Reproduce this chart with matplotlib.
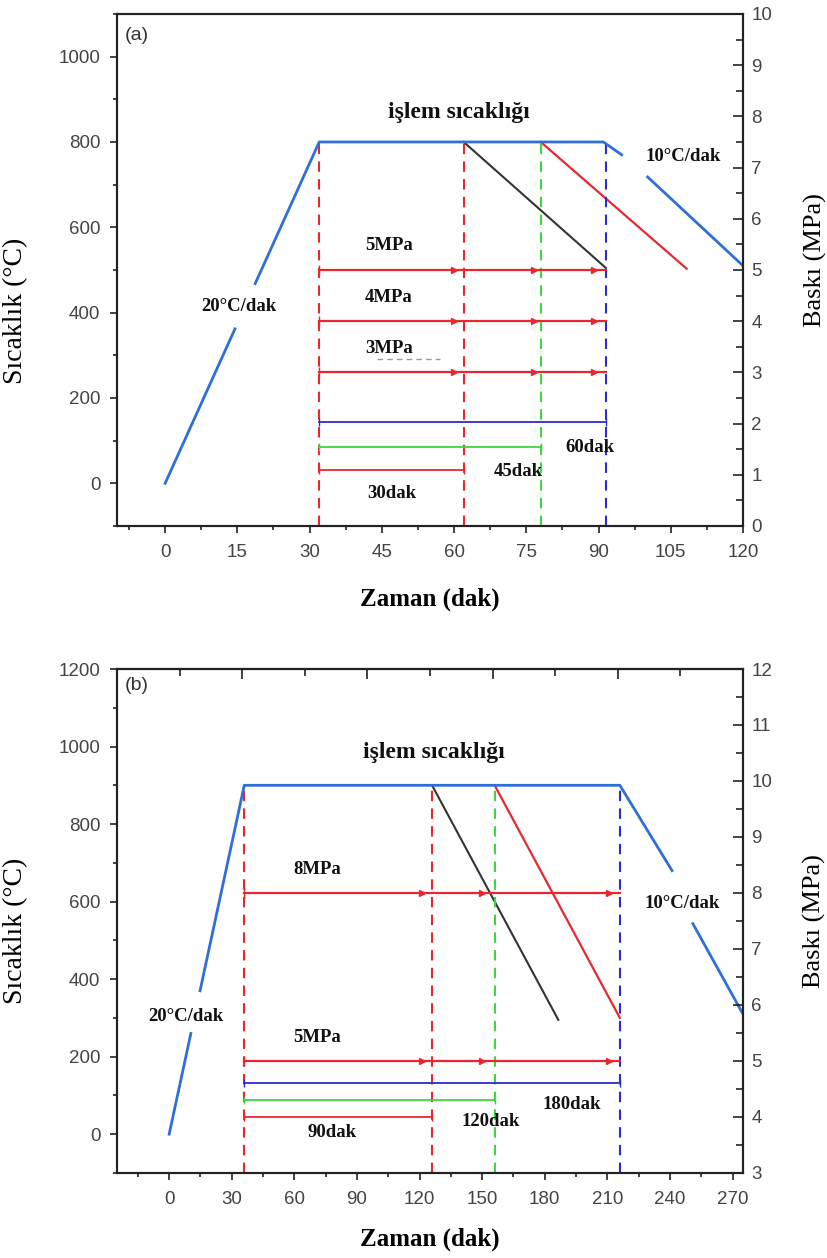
import numpy as np
import matplotlib.pyplot as plt
from matplotlib.ticker import MultipleLocator

plt.rcParams['font.family'] = ['Liberation Sans', 'DejaVu Sans']
SERIF = ['Liberation Serif', 'DejaVu Serif']

BLUE = '#2f6fd8'
RED = '#e8282e'
GREEN = '#3fd63f'
DBLUE = '#2b2bd0'
DARK = '#333333'
TICK = '#444444'

# ---- (a) 800 °C, holds of 30 / 45 / 60 dak
a_temp_t = [0, 14.5, np.nan, 18.7, 32, 91, 94.8, np.nan, 100.2, 120]
a_temp_T = [0, 362, np.nan, 468, 800, 800, 770, np.nan, 718, 510]
a_cool_black_t = [62, 91.5]
a_cool_black_T = [800, 505]
a_cool_red_t = [78, 108.3]
a_cool_red_T = [800, 503]
a_marks = [32, 62, 78, 91.5]
a_press = [5, 4, 3]
a_press_labels = ['5MPa', '4MPa', '3MPa']
a_arrows = [60, 76.5, 89]
a_hold_end = [62, 78, 91.5]
a_hold_level = [1.1, 1.55, 2.03]
a_hold_labels = ['30dak', '45dak', '60dak']

# ---- (b) 900 °C, holds of 90 / 120 / 180 dak
b_temp_t = [0, 10.4, np.nan, 14.8, 36, 216, 241, np.nan, 251, 275]
b_temp_T = [0, 260, np.nan, 370, 900, 900, 680, np.nan, 543, 310]
b_cool_black_t = [126, 186.5]
b_cool_black_T = [900, 295]
b_cool_red_t = [156, 216]
b_cool_red_T = [900, 300]
b_marks = [36, 126, 156, 216]
b_press = [8, 5]
b_press_labels = ['8MPa', '5MPa']
b_arrows = [121, 150, 211]
b_hold_end = [126, 156, 216]
b_hold_level = [4.0, 4.3, 4.61]
b_hold_labels = ['90dak', '120dak', '180dak']

mark_colors = [RED, RED, GREEN, DBLUE]
hold_colors = [RED, GREEN, DBLUE]


def bold(ax, x, y, s, size=13.5, **kw):
    ax.text(x, y, s, family=SERIF, fontweight='bold', fontsize=size,
            ha='center', va='center', color='#111111', **kw)


def draw_panel(ax, temp_t, temp_T, cb_t, cb_T, cr_t, cr_T, marks, press,
               press_labels, press_lbl_x, arrows, hold_end, hold_level,
               hold_labels, hold_lbl_xy, ylim, ylim2, xpad):
    ax.set_ylim(*ylim)
    ax2 = ax.twinx()
    ax2.set_ylim(*ylim2)

    ax.plot(temp_t, temp_T, color=BLUE, lw=2, zorder=4)
    ax.plot(cb_t, cb_T, color=DARK, lw=1.5)
    ax.plot(cr_t, cr_T, color=RED, lw=1.6)

    plateau = temp_T[4]
    for x, c in zip(marks, mark_colors):
        ax.vlines(x, ylim[0], plateau, colors=c, lw=1.5,
                  linestyles=(0, (5, 3.5)), zorder=3)

    start = marks[0]
    for p in press:
        ax2.plot([start, marks[-1]], [p, p], color=RED, lw=1.6)
        ax2.plot([start], [p], marker='|', color=RED, ms=7)
        ax2.plot(arrows, [p] * len(arrows), ls='none', marker='>',
                 color=RED, ms=5)
    for p, s in zip(press, press_labels):
        bold(ax2, press_lbl_x, p + 0.47 * (ylim2[1] - ylim2[0]) / 10, s)

    for end, lvl, c in zip(hold_end, hold_level, hold_colors):
        ax2.plot([start, end], [lvl, lvl], color=c, lw=1.3)
        ax2.plot([start, end], [lvl, lvl], ls='none', marker='|',
                 color=c, ms=6)
    for (x, y), s in zip(hold_lbl_xy, hold_labels):
        bold(ax2, x, y, s)

    ax.tick_params(axis='both', which='both', labelsize=13.5,
                   labelcolor=TICK, width=1.2, color='#222222')
    ax.tick_params(axis='y', which='major', direction='out', length=5, pad=7)
    ax.tick_params(axis='y', which='minor', direction='out', length=3)
    ax.tick_params(axis='x', which='major', direction='out', length=5, pad=8)
    ax.tick_params(axis='x', which='minor', direction='out', length=3)
    ax.tick_params(top=False, which='both')
    ax2.tick_params(axis='y', which='both', direction='in', labelsize=13.5,
                    labelcolor=TICK, width=1.2, color='#222222', pad=6)
    ax2.tick_params(axis='y', which='major', length=7)
    ax2.tick_params(axis='y', which='minor', length=5)
    ax2.yaxis.set_major_locator(MultipleLocator(1))
    ax2.yaxis.set_minor_locator(MultipleLocator(0.5))
    ax.yaxis.set_major_locator(MultipleLocator(200))
    ax.yaxis.set_minor_locator(MultipleLocator(100))
    for a in (ax, ax2):
        for sp in a.spines.values():
            sp.set_linewidth(1.5)
            sp.set_color('#222222')

    ax.set_xlabel('Zaman (dak)', family=SERIF, fontweight='bold',
                  fontsize=18, labelpad=xpad)
    ax.set_ylabel('Sıcaklık (°C)', family=SERIF, fontsize=20)
    ax2.set_ylabel('Baskı (MPa)', family=SERIF, fontsize=19)
    return ax2


fig = plt.figure(figsize=(8.28, 12.58), dpi=100)
ax_a = fig.add_axes([0.1413, 0.5819, 0.756, 0.407])
ax_b = fig.add_axes([0.1413, 0.0676, 0.756, 0.4006])

# panel (a)
ax_a.set_xlim(-10, 120)
ax_a.xaxis.set_major_locator(MultipleLocator(15))
ax_a.xaxis.set_minor_locator(MultipleLocator(7.5))
ax2_a = draw_panel(ax_a, a_temp_t, a_temp_T, a_cool_black_t, a_cool_black_T,
                   a_cool_red_t, a_cool_red_T, a_marks, a_press,
                   a_press_labels, 46.5, a_arrows, a_hold_end, a_hold_level,
                   a_hold_labels, [(47, 0.64), (73.3, 1.07), (88.3, 1.54)],
                   (-100, 1100), (0, 10), 19)
ax_a.set_yticks([0, 200, 400, 600, 800, 1000])
ax2_a.plot([44, 57], [3.27, 3.27], color='#999999', lw=1,
           ls=(0, (4, 3)))
bold(ax_a, 15.4, 414, '20°C/dak')
bold(ax_a, 107.5, 765, '10°C/dak')
bold(ax_a, 61, 868, 'işlem sıcaklığı', size=17)
ax_a.text(0.012, 0.975, '(a)', transform=ax_a.transAxes, fontsize=14,
          ha='left', va='top', color='#333333')
ax_a.yaxis.set_label_coords(-0.142, 0.42)
ax2_a.yaxis.set_label_coords(1.098, 0.52)

# panel (b)
ax_b.set_xlim(-25, 275)
ax_b.xaxis.set_major_locator(MultipleLocator(30))
ax_b.xaxis.set_minor_locator(MultipleLocator(15))
ax2_b = draw_panel(ax_b, b_temp_t, b_temp_T, b_cool_black_t, b_cool_black_T,
                   b_cool_red_t, b_cool_red_T, b_marks, b_press,
                   b_press_labels, 71, b_arrows, b_hold_end, b_hold_level,
                   b_hold_labels, [(78, 3.72), (154, 3.92), (193, 4.22)],
                   (-100, 1200), (3, 12), 14)
bold(ax_b, 8, 303, '20°C/dak', bbox=dict(fc='white', ec='none', pad=0))
bold(ax_b, 246, 595, '10°C/dak', bbox=dict(fc='white', ec='none', pad=1))
bold(ax_b, 127, 985, 'işlem sıcaklığı', size=17)
ax_b.text(0.012, 0.985, '(b)', transform=ax_b.transAxes, fontsize=14,
          ha='left', va='top', color='#333333')
ax_b.yaxis.set_label_coords(-0.142, 0.48)
ax2_b.yaxis.set_label_coords(1.095, 0.5)

# inward ticks along the top edge of (b)
top_b = ax_b.secondary_xaxis('top')
top_b.set_xticks([35, 95, 155, 215])
top_b.set_xticks([5, 65, 125, 185, 245], minor=True)
top_b.tick_params(which='both', direction='in', labeltop=False,
                  width=1.2, color='#222222')
top_b.tick_params(which='major', length=7)
top_b.tick_params(which='minor', length=5)
top_b.spines['top'].set_linewidth(1.5)

fig.savefig('out.png', dpi=100)
